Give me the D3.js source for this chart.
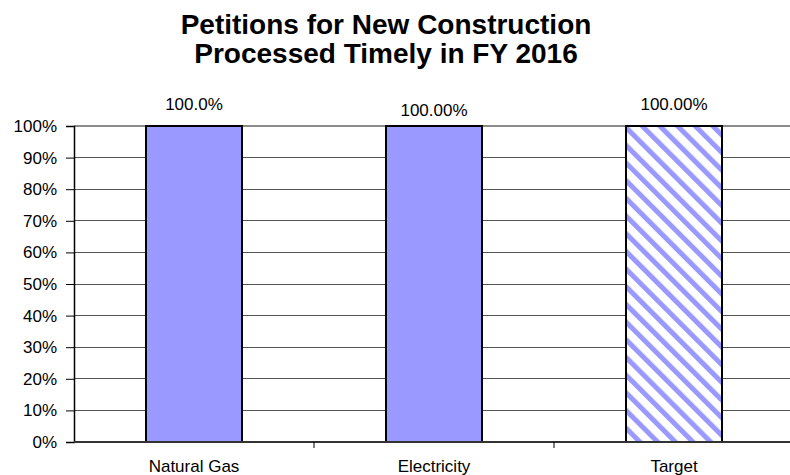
<!DOCTYPE html>
<html>
<head>
<meta charset="utf-8">
<script src="https://cdn.jsdelivr.net/npm/d3@7"></script>
<style>
  body { margin: 0; background: #fff; }
  text { font-family: "Liberation Sans", Arial, sans-serif; fill: #000; }
</style>
</head>
<body>
<svg id="chart"></svg>
<script>
const categories = ["Natural Gas", "Electricity", "Target"];
const values = [100, 100, 100];
const valueLabels = ["100.0%", "100.00%", "100.00%"];
const yTicks = [0, 10, 20, 30, 40, 50, 60, 70, 80, 90, 100];
const titleLines = ["Petitions for New Construction", "Processed Timely in FY 2016"];

const width = 790, height = 475;
const margin = {top: 126, right: -4, bottom: 33, left: 74};

const svg = d3.select("#chart")
    .attr("width", width)
    .attr("height", height);

// hatch for the target bar
const pattern = svg.append("defs").append("pattern")
    .attr("id", "hatch")
    .attr("patternUnits", "userSpaceOnUse")
    .attr("width", 12.5)
    .attr("height", 12.5)
    .attr("patternTransform", "rotate(-45)");
pattern.append("rect")
    .attr("width", 12.5).attr("height", 12.5).attr("fill", "#fff");
pattern.append("rect")
    .attr("width", 5).attr("height", 12.5).attr("fill", "#9999ff");

const x = d3.scaleBand()
    .domain(categories)
    .range([margin.left, width - margin.right]);

const y = d3.scaleLinear()
    .domain([0, 100])
    .range([height - margin.bottom, margin.top]);

// title
svg.append("g")
    .selectAll("text")
    .data(titleLines)
    .enter().append("text")
    .attr("x", 386)
    .attr("y", function (d, i) { return 34 + i * 29; })
    .attr("text-anchor", "middle")
    .style("font-size", "28px")
    .style("font-weight", "bold")
    .text(function (d) { return d; });

// gridlines
svg.append("g")
    .selectAll("line")
    .data(yTicks.slice(1))
    .enter().append("line")
    .attr("x1", margin.left)
    .attr("x2", width)
    .attr("y1", function (d) { return y(d); })
    .attr("y2", function (d) { return y(d); })
    .attr("stroke", function (d) { return d === 100 ? "#8c8c8c" : "#555"; })
    .attr("stroke-width", function (d) { return d === 100 ? 2 : 1; })
    .attr("shape-rendering", "crispEdges");

// y axis
const yAxis = svg.append("g")
    .attr("transform", "translate(" + margin.left + ",0)")
    .call(d3.axisLeft(y)
        .tickValues(yTicks)
        .tickSize(8)
        .tickPadding(9)
        .tickFormat(function (d) { return d + "%"; }));
yAxis.select(".domain").attr("stroke", "#000").attr("stroke-width", 1.5);
yAxis.selectAll(".tick line").attr("stroke", "#000");
yAxis.selectAll("text").style("font-size", "17px").attr("fill", "#000");

// bars
const barW = x.bandwidth() * 0.4;
svg.append("g")
    .selectAll("rect")
    .data(values)
    .enter().append("rect")
    .attr("x", function (d, i) { return x(categories[i]) + (x.bandwidth() - barW) / 2; })
    .attr("y", function (d) { return y(d); })
    .attr("width", barW)
    .attr("height", function (d) { return y(0) - y(d); })
    .attr("fill", function (d, i) { return categories[i] === "Target" ? "url(#hatch)" : "#9999ff"; })
    .attr("stroke", "#000")
    .attr("stroke-width", 2);

// x axis
const xAxis = svg.append("g")
    .attr("transform", "translate(0," + y(0) + ")")
    .call(d3.axisBottom(x).tickSize(0).tickPadding(18));
xAxis.select(".domain").remove();
xAxis.selectAll("text").style("font-size", "17px").attr("fill", "#000");

svg.append("line")
    .attr("x1", margin.left)
    .attr("x2", width)
    .attr("y1", y(0))
    .attr("y2", y(0))
    .attr("stroke", "#333")
    .attr("stroke-width", 2);

// category separators
svg.append("g")
    .selectAll("line")
    .data(categories.slice(1))
    .enter().append("line")
    .attr("x1", function (d) { return x(d); })
    .attr("x2", function (d) { return x(d); })
    .attr("y1", y(0))
    .attr("y2", y(0) + 6)
    .attr("stroke", "#000");

// value labels (the middle one sits a little lower in the original)
svg.append("g")
    .selectAll("text")
    .data(values)
    .enter().append("text")
    .attr("x", function (d, i) { return x(categories[i]) + x.bandwidth() / 2; })
    .attr("y", function (d) { return y(d) - 16; })
    .attr("dy", function (d, i) { return i === 1 ? 6 : 0; })
    .attr("text-anchor", "middle")
    .style("font-size", "17px")
    .text(function (d, i) { return valueLabels[i]; });
</script>
</body>
</html>
